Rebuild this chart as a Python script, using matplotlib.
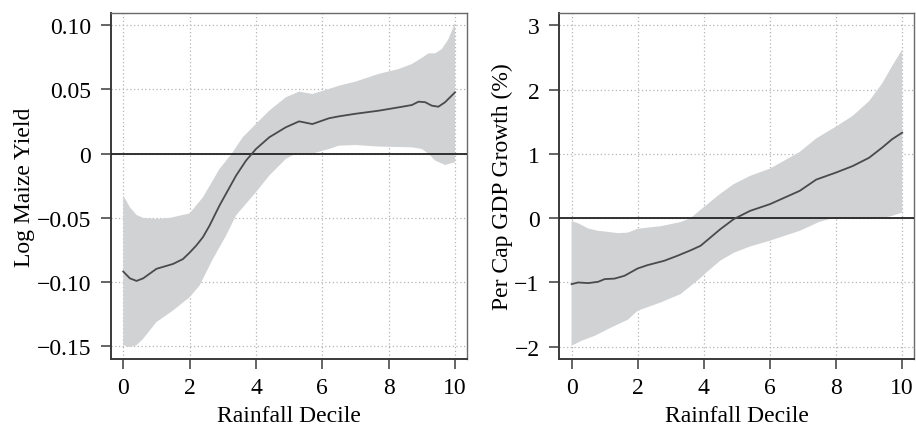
"""
Rainfall decile response curves: log maize yield and per-capita GDP growth,
each with a shaded confidence band.
"""

import matplotlib
matplotlib.use("Agg")
import matplotlib.pyplot as plt


# ======================
# DATA
# ======================

# left panel: log maize yield
maize_x = [0, 0.2, 0.4, 0.6, 1.0, 1.5, 1.8, 2.0, 2.2, 2.4, 2.6, 2.9, 3.4, 3.7,
           4.0, 4.4, 4.9, 5.3, 5.7, 6.2, 6.5, 7.0, 7.7, 8.3, 8.7, 8.9, 9.1,
           9.3, 9.5, 9.7, 10.0]
maize_mean = [-0.0917, -0.097, -0.099, -0.097, -0.0896, -0.0858, -0.082, -0.077,
              -0.0715, -0.065, -0.056, -0.0404, -0.0171, -0.0054, 0.0036,
              0.0127, 0.0205, 0.0251, 0.023, 0.0275, 0.029, 0.031, 0.0334,
              0.036, 0.0378, 0.0404, 0.040, 0.0373, 0.0365, 0.040, 0.0477]

maize_up_x = [0, 0.2, 0.4, 0.6, 1.0, 1.4, 2.0, 2.4, 2.9, 3.27, 3.6, 4.0, 4.4,
              4.9, 5.3, 5.7, 6.2, 6.5, 7.0, 7.7, 8.3, 8.7, 9.0, 9.2, 9.4, 9.6,
              9.8, 10.0]
maize_upper = [-0.0326, -0.0417, -0.0477, -0.050, -0.0508, -0.050, -0.0465,
               -0.034, -0.012, 0.0, 0.0127, 0.0231, 0.0334, 0.0438, 0.0482,
               0.0464, 0.0503, 0.0528, 0.056, 0.062, 0.0658, 0.0697, 0.0745,
               0.078, 0.078, 0.0813, 0.089, 0.1016]

maize_lo_x = [0, 0.2, 0.4, 0.6, 1.0, 1.5, 2.0, 2.3, 2.7, 3.1, 3.4, 4.0, 4.4,
              4.9, 5.2, 5.7, 6.2, 6.5, 7.0, 7.7, 8.7, 9.0, 9.2, 9.4, 9.7, 10.0]
maize_lower = [-0.149, -0.1505, -0.149, -0.144, -0.131, -0.122, -0.1117,
               -0.1026, -0.082, -0.0637, -0.048, -0.030, -0.0171, -0.0041, 0.0,
               0.0, 0.0036, 0.0062, 0.0067, 0.0055, 0.0049, 0.0036, 0.0,
               -0.0054, -0.0088, -0.0067]

# right panel: per capita GDP growth (%)
gdp_x = [0, 0.2, 0.5, 0.8, 1.0, 1.3, 1.6, 2.0, 2.3, 2.8, 3.2, 3.6, 3.9, 4.5,
         4.9, 5.4, 6.0, 6.9, 7.4, 8.0, 8.5, 9.0, 9.4, 9.7, 10.0]
gdp_mean = [-1.026, -1.0, -1.01, -0.99, -0.948, -0.94, -0.896, -0.782, -0.73,
            -0.663, -0.585, -0.50, -0.43, -0.171, -0.016, 0.114, 0.218, 0.425,
            0.60, 0.71, 0.81, 0.94, 1.10, 1.23, 1.33]

gdp_up_x = [0, 0.2, 0.5, 0.8, 1.0, 1.4, 1.7, 2.0, 2.7, 3.3, 3.6, 3.9, 4.5, 4.9,
            5.4, 6.0, 6.9, 7.4, 8.0, 8.5, 9.0, 9.4, 9.7, 10.0]
gdp_upper = [-0.045, -0.08, -0.16, -0.197, -0.207, -0.233, -0.225, -0.165,
             -0.125, -0.06, 0.0, 0.13, 0.38, 0.528, 0.658, 0.77, 1.03, 1.24,
             1.425, 1.59, 1.82, 2.10, 2.37, 2.62]

gdp_lo_x = [0, 0.3, 0.7, 1.2, 1.7, 2.0, 2.7, 3.3, 3.9, 4.2, 4.5, 4.9, 5.4, 6.0,
            6.9, 7.5, 7.9, 8.5, 9.0, 9.4, 9.7, 10.0]
gdp_lower = [-1.985, -1.907, -1.83, -1.70, -1.58, -1.44, -1.31, -1.18, -0.93,
             -0.79, -0.66, -0.54, -0.44, -0.35, -0.197, -0.057, 0.0, 0.0,
             -0.005, 0.0, 0.036, 0.088]

maize_yticks = [-0.15, -0.10, -0.05, 0, 0.05, 0.10]
maize_ylabels = ["\u22120.15", "\u22120.10", "\u22120.05", "0", "0.05", "0.10"]
gdp_yticks = [-2, -1, 0, 1, 2, 3]
gdp_ylabels = ["\u22122", "\u22121", "0", "1", "2", "3"]
xticks = [0, 2, 4, 6, 8, 10]


# ======================
# PLOTTING
# ======================

plt.rcParams["font.family"] = ["Liberation Serif", "DejaVu Serif"]
plt.rcParams["font.size"] = 17

BAND = "#d1d2d4"
LINE = "#4a4a4a"
FRAME = "#3a3a3a"


def band(ax, up_x, upper, lo_x, lower):
    # upper and lower edges were read at different x positions,
    # so build a closed polygon instead of fill_between
    xs = list(up_x) + list(lo_x)[::-1]
    ys = list(upper) + list(lower)[::-1]
    ax.fill(xs, ys, color=BAND, linewidth=0, zorder=2)


def style_axes(ax, yticks, ylabels, ylim, ylabel):
    ax.set_xlim(-0.38, 10.36)
    ax.set_ylim(*ylim)
    ax.set_xticks(xticks)
    ax.set_yticks(yticks)
    ax.set_yticklabels(ylabels)
    ax.grid(True, linestyle=(0, (1, 2)), color="#b5b5b5", linewidth=0.9)
    ax.set_axisbelow(True)
    ax.axhline(0, color="#222222", linewidth=1.3, zorder=3)
    for side in ("left", "bottom"):
        ax.spines[side].set_color(FRAME)
        ax.spines[side].set_linewidth(1.4)
    for side in ("top", "right"):
        ax.spines[side].set_color("#6a6a6a")
        ax.spines[side].set_linewidth(1.0)
    ax.tick_params(direction="out", length=7, width=1.1, color=FRAME,
                   labelsize=17)
    ax.tick_params(axis="x", pad=6)
    ax.tick_params(axis="y", pad=7)
    ax.set_xlabel("Rainfall Decile", fontsize=17, labelpad=5)
    ax.set_ylabel(ylabel, fontsize=17, labelpad=1)


fig = plt.figure(figsize=(9.16, 4.27), dpi=100)

ax1 = fig.add_axes([0.1208, 0.157, 0.389, 0.810])
band(ax1, maize_up_x, maize_upper, maize_lo_x, maize_lower)
ax1.plot(maize_x, maize_mean, color=LINE, linewidth=1.3, zorder=4)
style_axes(ax1, maize_yticks, maize_ylabels, (-0.1597, 0.1093),
           "Log Maize Yield")

ax2 = fig.add_axes([0.6103, 0.157, 0.3876, 0.810])
band(ax2, gdp_up_x, gdp_upper, gdp_lo_x, gdp_lower)
ax2.plot(gdp_x, gdp_mean, color=LINE, linewidth=1.3, zorder=4)
style_axes(ax2, gdp_yticks, gdp_ylabels, (-2.19, 3.19),
           "Per Cap GDP Growth (%)")

fig.savefig("out.png", dpi=100)
